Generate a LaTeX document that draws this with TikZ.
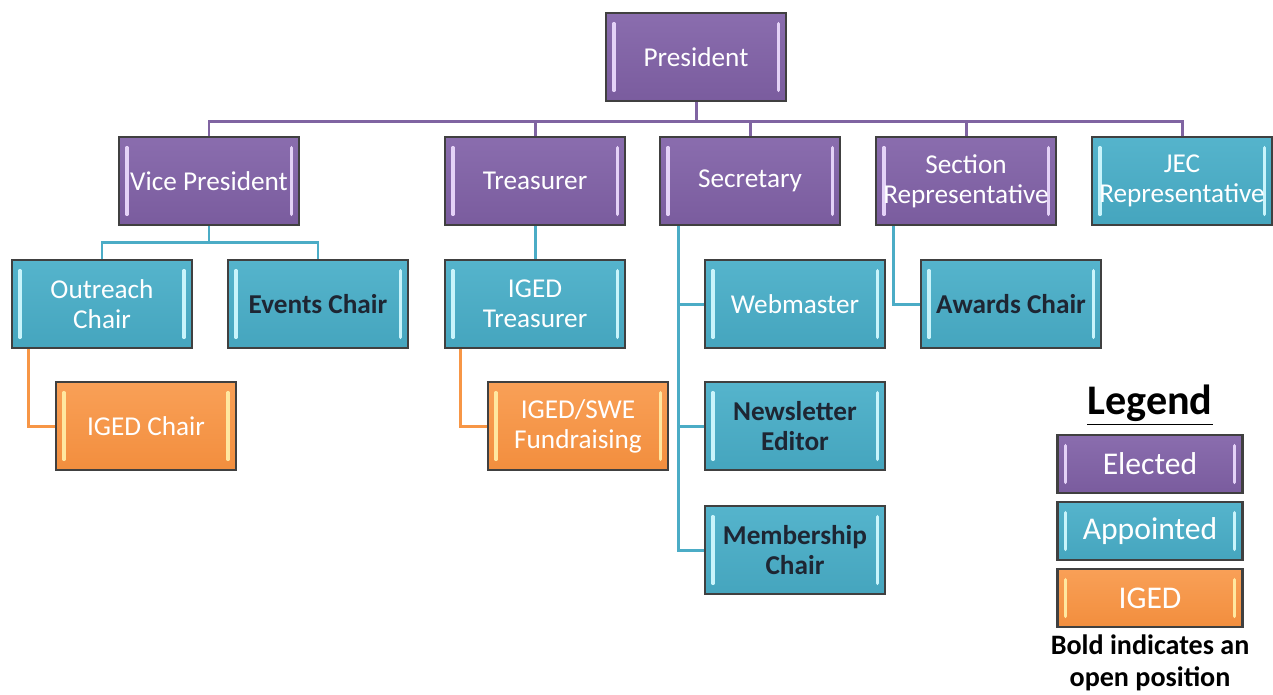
\documentclass[tikz,border=0pt]{standalone}
\usepackage{fontspec}
\setmainfont{Carlito}
\usepackage{tikz}
\usetikzlibrary{positioning}

\definecolor{elpurple}{HTML}{8064A2}
\definecolor{eltop}{HTML}{8A6DAE}
\definecolor{elbot}{HTML}{7A5C9E}
\definecolor{elshine}{HTML}{E4D2F7}
\definecolor{apteal}{HTML}{4BACC6}
\definecolor{aptop}{HTML}{55B4CC}
\definecolor{apbot}{HTML}{45A5BE}
\definecolor{apshine}{HTML}{C9F4FB}
\definecolor{igorange}{HTML}{F79646}
\definecolor{igtop}{HTML}{F9A057}
\definecolor{igbot}{HTML}{F28E3E}
\definecolor{igshine}{HTML}{FFE7A0}
\definecolor{boxedge}{HTML}{404040}
\definecolor{opentext}{HTML}{1E2633}

\tikzset{
    bevel/.style={path picture={
        \draw[#1, line width=1.8pt, line cap=round]
            ([xshift=4.5pt,yshift=-6pt]path picture bounding box.north west) --
            ([xshift=4.5pt,yshift=6pt]path picture bounding box.south west);
        \draw[#1, line width=1.8pt, line cap=round]
            ([xshift=-4.5pt,yshift=-6pt]path picture bounding box.north east) --
            ([xshift=-4.5pt,yshift=6pt]path picture bounding box.south east);
    }},
    box/.style={draw=boxedge, line width=1.2pt, minimum width=3.6cm, minimum height=1.76cm,
        align=center, text=white, inner sep=1pt, font=\fontsize{15.5}{17}\selectfont},
    elected/.style={box, top color=eltop, bottom color=elbot, bevel=elshine},
    appointed/.style={box, top color=aptop, bottom color=apbot, bevel=apshine},
    iged/.style={box, top color=igtop, bottom color=igbot, bevel=igshine},
    open/.style={text=opentext, font=\fontsize{15.5}{17}\selectfont\bfseries},
    legendbox/.style={minimum width=3.7cm, minimum height=1.16cm, font=\fontsize{18}{20}\selectfont},
    pline/.style={draw=elpurple, line width=1.7pt},
    tline/.style={draw=apteal, line width=1.7pt},
    oline/.style={draw=igorange, line width=1.7pt},
}

\begin{document}
\begin{tikzpicture}[x=0.02cm, y=-0.02cm]
    \useasboundingbox (0,0) rectangle (1273,694);

    % Elected
    \node[elected] (president) at (696,57) {President};
    \node[elected] (vicepres) at (209,181) {Vice President};
    \node[elected] (treasurer) at (535,181) {Treasurer};
    \node[elected] (secretary) at (750,181) {Secretary};
    \node[elected] (sectionrep) at (966,181) {Section\\Representative};
    \node[appointed] (jecrep) at (1182,181) {JEC\\Representative};

    % Appointed
    \node[appointed] (outreach) at (102,304) {Outreach\\Chair};
    \node[appointed, open] (events) at (318,304) {Events Chair};
    \node[appointed] (igedtreas) at (535,304) {IGED\\Treasurer};
    \node[appointed] (webmaster) at (795,304) {Webmaster};
    \node[appointed, open] (awards) at (1011,304) {Awards Chair};
    \node[appointed, open] (newsletter) at (795,426) {Newsletter\\Editor};
    \node[appointed, open] (membership) at (795,550) {Membership\\Chair};

    % IGED
    \node[iged] (igedchair) at (146,426) {IGED Chair};
    \node[iged] (fundraising) at (578,426) {IGED/SWE\\Fundraising};

    % Connectors
    \foreach \kid in {vicepres,treasurer,secretary,sectionrep,jecrep}
        \draw[pline] (president.south) -- ++(0,19) -| (\kid.north);
    \foreach \kid in {outreach,events}
        \draw[tline] (vicepres.south) -- ++(0,16) -| (\kid.north);
    \draw[tline] (treasurer.south) -- (igedtreas.north);
    \foreach \kid in {webmaster,newsletter,membership}
        \draw[tline] ([xshift=0.4cm]secretary.south west) |- (\kid.west);
    \draw[tline] ([xshift=0.38cm]sectionrep.south west) |- (awards.west);
    \draw[oline] ([xshift=0.36cm]outreach.south west) |- (igedchair.west);
    \draw[oline] ([xshift=0.34cm]igedtreas.south west) |- (fundraising.west);

    % Legend
    \node[font=\fontsize{24}{28}\selectfont\bfseries] (legend) at (1150,405) {\underline{Legend}};
    \node[elected, legendbox] (lgelected) at (1150,464) {Elected};
    \node[appointed, legendbox] (lgappointed) at (1150,531) {Appointed};
    \node[iged, legendbox] (lgiged) at (1150,598) {IGED};
    \node[font=\fontsize{16}{18}\selectfont\bfseries, align=center, inner sep=1pt] (note)
        at (1150,663) {Bold indicates an\\open position};
\end{tikzpicture}
\end{document}
